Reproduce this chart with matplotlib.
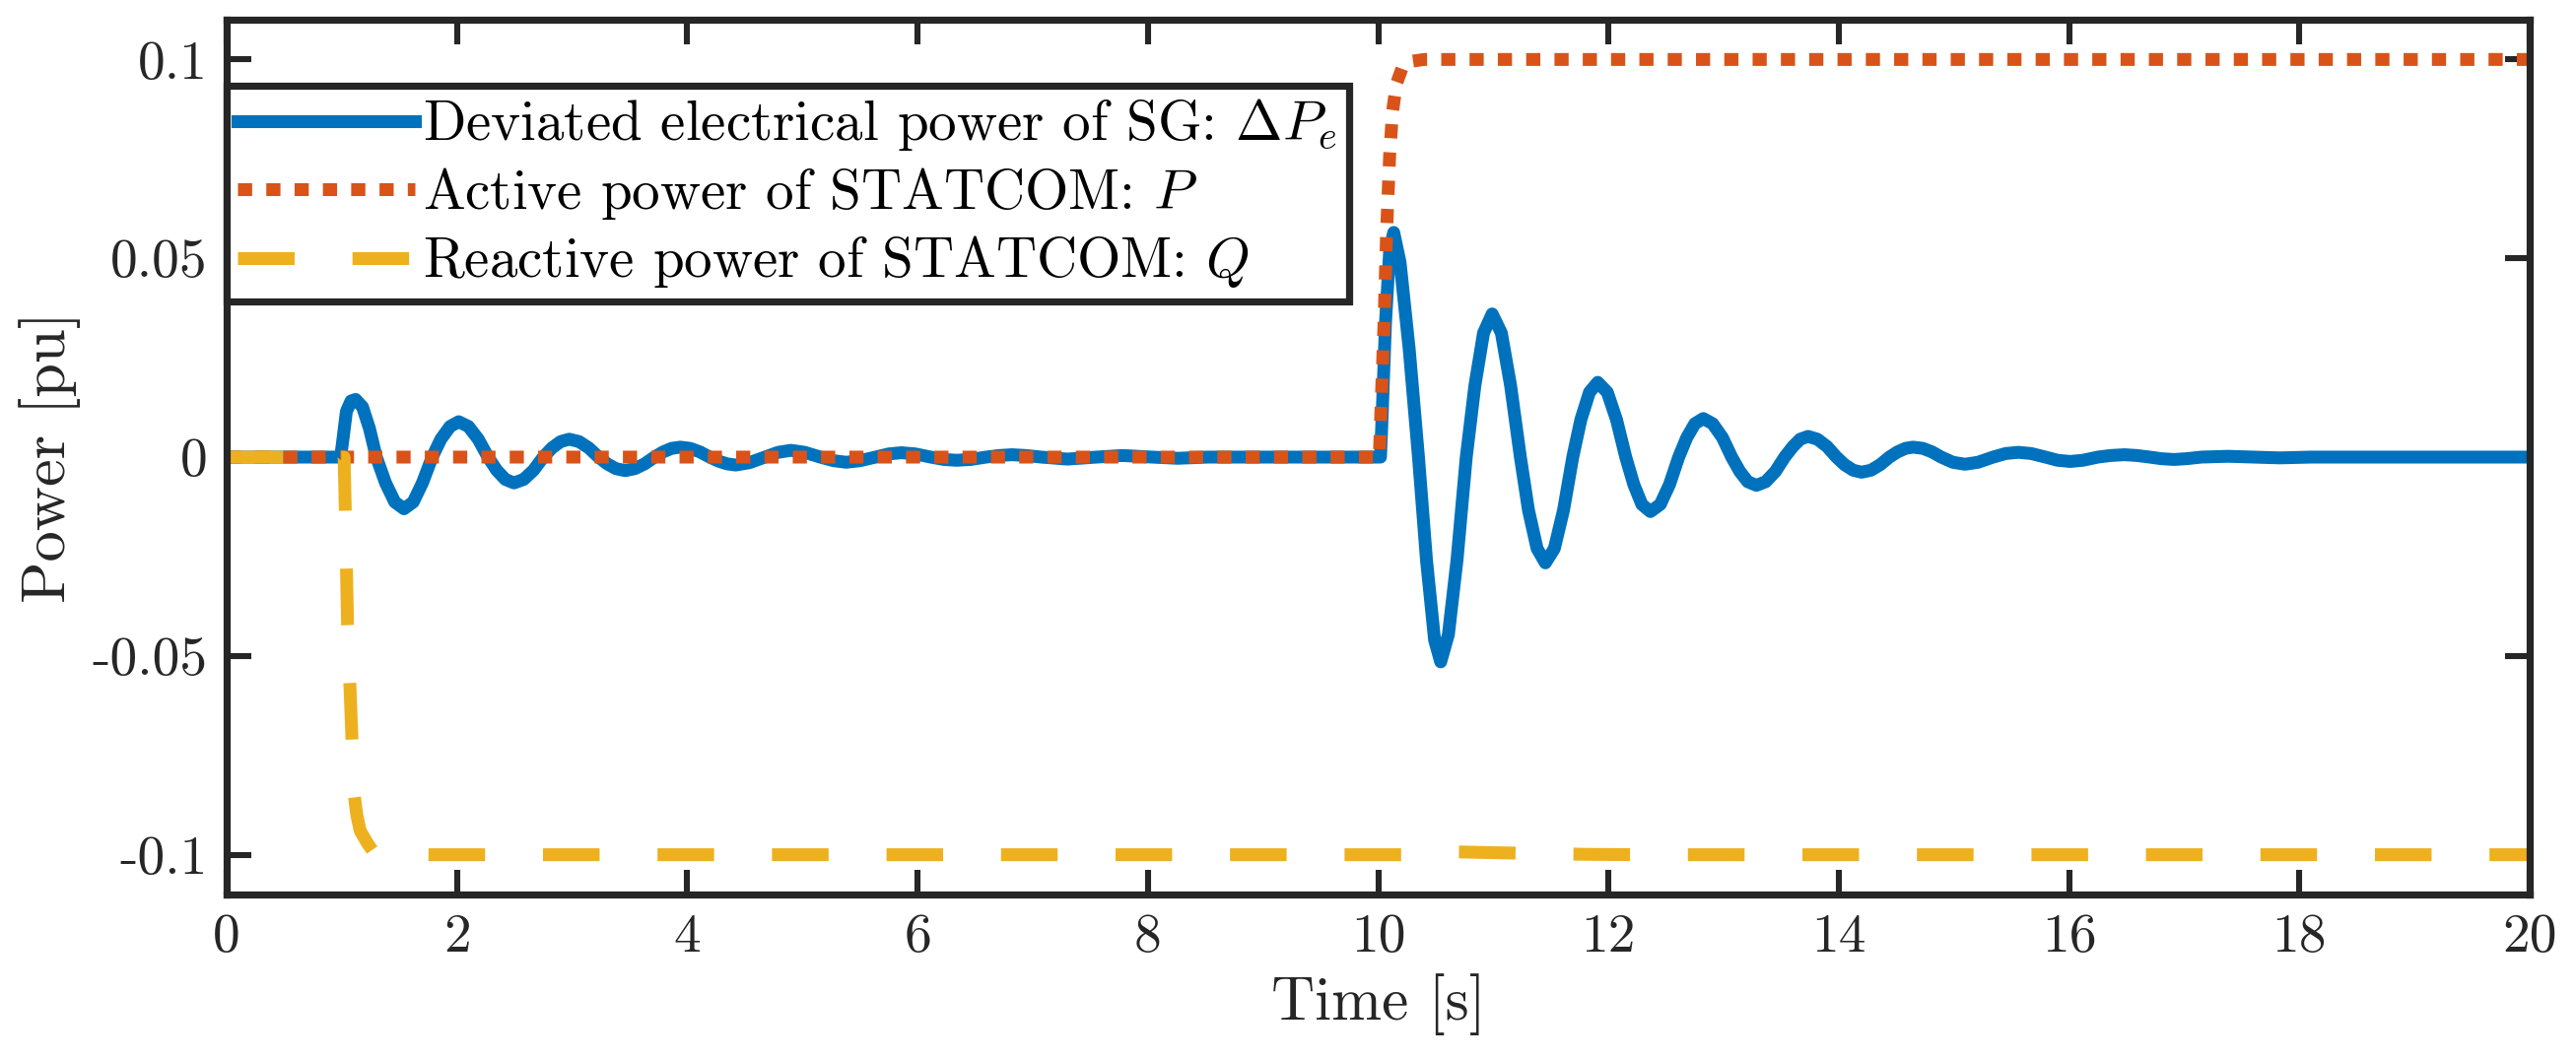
import matplotlib
matplotlib.use('Agg')
import matplotlib.pyplot as plt

# 曲线数据
t_pe = [0, 0.99, 1.01, 1.04, 1.08, 1.12, 1.18, 1.24, 1.30, 1.38, 1.46, 1.54, 1.62, 1.70,
        1.785, 1.86, 1.94, 2.015, 2.10, 2.185, 2.27, 2.345, 2.42, 2.495, 2.58, 2.665,
        2.75, 2.825, 2.90, 2.975, 3.06, 3.145, 3.23, 3.305, 3.38, 3.46, 3.545, 3.63,
        3.715, 3.79, 3.865, 3.94, 4.025, 4.11, 4.195, 4.27, 4.345, 4.42, 4.54, 4.675,
        4.79, 4.90, 5.02, 5.155, 5.27, 5.38, 5.50, 5.635, 5.75, 5.86, 5.98, 6.115,
        6.23, 6.34, 6.46, 6.595, 6.71, 6.82, 6.94, 7.075, 7.30, 7.555, 7.78, 8.035,
        8.26, 8.52, 10.02,
        10.03, 10.064, 10.10, 10.135, 10.19, 10.27, 10.35, 10.42, 10.49, 10.543,
        10.61, 10.685, 10.765, 10.84, 10.915, 10.99, 11.07, 11.15, 11.235, 11.305,
        11.38, 11.452, 11.53, 11.61, 11.69, 11.76, 11.835, 11.907, 11.99, 12.07,
        12.15, 12.22, 12.29, 12.364, 12.45, 12.53, 12.61, 12.68, 12.75, 12.823,
        12.905, 12.99, 13.07, 13.14, 13.21, 13.285, 13.365, 13.45, 13.53, 13.60,
        13.665, 13.733, 13.815, 13.90, 13.98, 14.05, 14.125, 14.197, 14.28, 14.36,
        14.44, 14.51, 14.58, 14.645, 14.73, 14.81, 14.89, 14.99, 15.095, 15.21,
        15.34, 15.45, 15.56, 15.67, 15.795, 15.90, 16.01, 16.12, 16.25, 16.36,
        16.48, 16.59, 16.70, 16.80, 16.91, 17.02, 17.15, 17.38, 17.60, 17.83,
        18.1, 20]
pe = [0, 0, 0.0045, 0.0115, 0.0141, 0.0145, 0.0126, 0.0072, 0, -0.0065, -0.0113, -0.0130,
      -0.0113, -0.0065, 0, 0.0045, 0.0077, 0.0089, 0.0077, 0.0045, 0, -0.0033, -0.0056,
      -0.0065, -0.0056, -0.0033, 0, 0.0023, 0.0039, 0.0045, 0.0039, 0.0023, 0, -0.0017,
      -0.0029, -0.0034, -0.0029, -0.0017, 0, 0.0013, 0.0022, 0.0025, 0.0022, 0.0013, 0,
      -0.0010, -0.0017, -0.0020, -0.0014, 0, 0.0012, 0.0017, 0.0012, 0, -0.0009, -0.0013,
      -0.0009, 0, 0.0008, 0.0011, 0.0008, 0, -0.0006, -0.0008, -0.0006, 0, 0.0004,
      0.0006, 0.0004, 0, -0.0005, 0, 0.0004, 0, -0.0003, 0, 0,
      0.007, 0.034, 0.052, 0.0565, 0.049, 0.027, 0, -0.026, -0.046, -0.0515,
      -0.0446, -0.0258, 0, 0.018, 0.0312, 0.036, 0.0312, 0.018, 0, -0.0133,
      -0.0230, -0.0266, -0.0230, -0.0133, 0, 0.0094, 0.0163, 0.0188, 0.0163, 0.0094,
      0, -0.0069, -0.0119, -0.0137, -0.0119, -0.0069, 0, 0.0049, 0.0084, 0.0097,
      0.0084, 0.0049, 0, -0.0036, -0.0062, -0.0071, -0.0062, -0.0036, 0, 0.0026,
      0.0045, 0.0052, 0.0045, 0.0026, 0, -0.0019, -0.0033, -0.0038, -0.0033, -0.0019,
      0, 0.0013, 0.0022, 0.0025, 0.0022, 0.0013, 0, -0.0013, -0.0018, -0.0013,
      0, 0.0009, 0.0012, 0.0009, 0, -0.0008, -0.0011, -0.0008, 0, 0.0004,
      0.0006, 0.0004, 0, -0.0004, -0.0006, -0.0004, 0, 0.0002, 0, -0.0002,
      0, 0]

t_p = [0, 10.01, 10.05, 10.075, 10.10, 10.125, 10.16, 10.21, 10.28, 10.4, 20]
p = [0, 0, 0.033, 0.058, 0.076, 0.087, 0.094, 0.098, 0.0995, 0.1, 0.1]

t_q = [0, 1.02, 1.03, 1.05, 1.087, 1.108, 1.13, 1.16, 1.22, 1.28, 1.4,
       10.3, 10.7, 11.2, 11.8, 12.3, 20]
q = [0, 0, -0.013, -0.042, -0.070, -0.085, -0.090, -0.094, -0.097, -0.0995, -0.1,
     -0.1, -0.0993, -0.0996, -0.0999, -0.1, -0.1]

x_ticks = [0, 2, 4, 6, 8, 10, 12, 14, 16, 18, 20]
y_ticks = [-0.1, -0.05, 0, 0.05, 0.1]
y_tick_labels = ['-0.1', '-0.05', '0', '0.05', '0.1']

labels = ['Deviated electrical power of SG: $\\Delta P_e$',
          'Active power of STATCOM: $P$',
          'Reactive power of STATCOM: $Q$']

plt.rcParams['font.family'] = ['cmr10']
plt.rcParams['mathtext.fontset'] = 'cm'
plt.rcParams['axes.unicode_minus'] = False
plt.rcParams['axes.formatter.use_mathtext'] = True

dark = '#262626'
W, H = 2614, 1075
fig = plt.figure(figsize=(W / 200, H / 200), dpi=200)
ax = fig.add_axes([230 / W, 167 / H, 2337 / W, 888 / H])

lw = 4.7
ax.plot(t_pe, pe, color='#0072BD', lw=lw, solid_joinstyle='round', label=labels[0])
ax.plot(t_p, p, color='#D95319', lw=lw, linestyle=(0, (1.1, 1.1)),
        dash_capstyle='butt', label=labels[1])
ax.plot(t_q, q, color='#EDB120', lw=lw, linestyle=(0, (4.4, 4.5)),
        dash_capstyle='butt', label=labels[2])

ax.set_xlim(0, 20)
ax.set_ylim(-0.11, 0.11)
ax.set_xticks(x_ticks)
ax.set_xticklabels([str(v) for v in x_ticks])
ax.set_yticks(y_ticks)
ax.set_yticklabels(y_tick_labels)
ax.tick_params(direction='in', length=9, width=2.2, top=True, right=True,
               colors=dark, labelsize=20, pad=7)
for sp in ax.spines.values():
    sp.set_linewidth(2.6)
    sp.set_color(dark)

ax.set_xlabel('Time [s]', fontsize=22, color=dark)
ax.set_ylabel('Power [pu]', fontsize=22.5, color=dark)
ax.xaxis.set_label_coords(0.5, -0.09)
ax.yaxis.set_label_coords(-0.0635, 0.5)

leg = ax.legend(loc='upper left', bbox_to_anchor=(0, 0.9245), borderaxespad=0,
                fontsize=20.5, fancybox=False, framealpha=1, edgecolor=dark,
                handlelength=3.15, handletextpad=0.15, borderpad=0.2, labelspacing=0.22)
leg.get_frame().set_linewidth(2.6)

fig.savefig('out.png', dpi=200)
